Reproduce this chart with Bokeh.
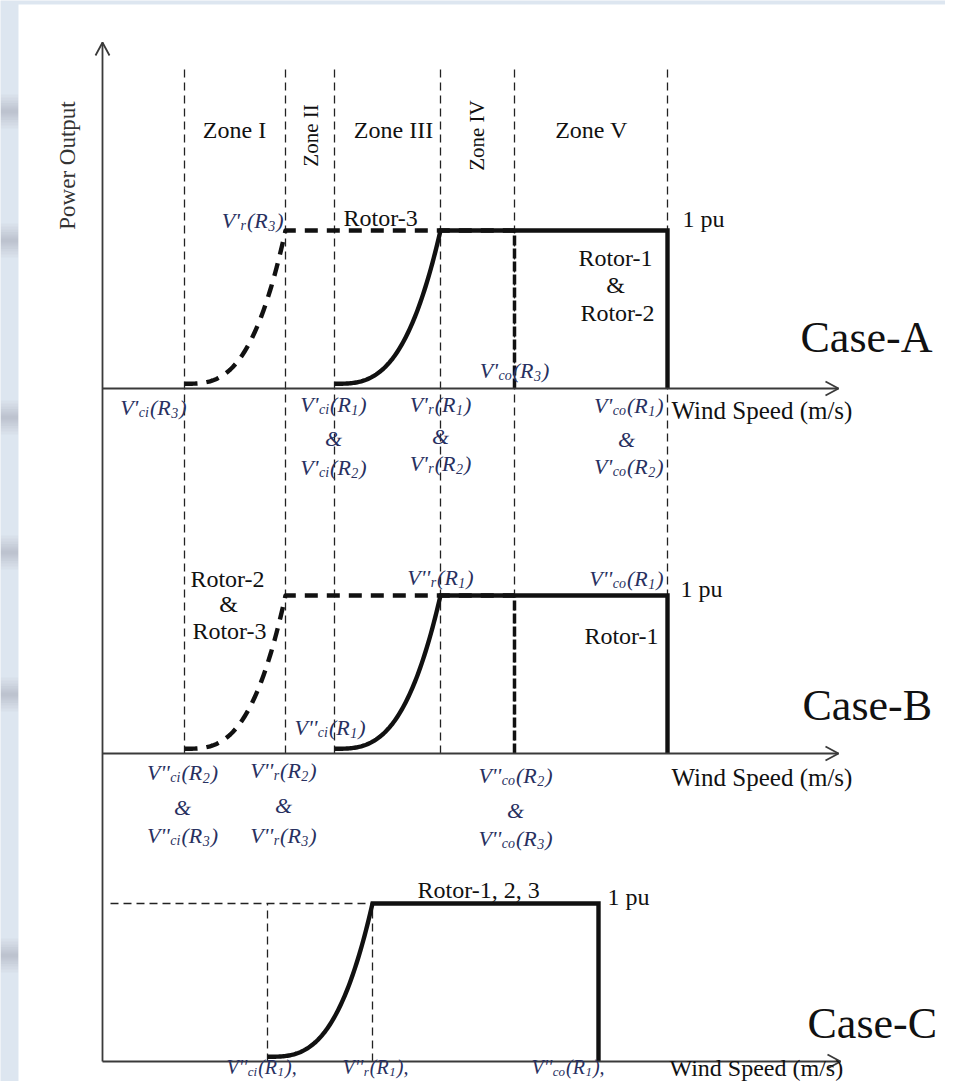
import numpy as np
from bokeh.plotting import figure
from bokeh.models import Range1d
from bokeh.core.properties import value
from bokeh.embed import file_html
from bokeh.resources import INLINE

# ------------------------------------------------------------------ data
# schematic wind-speed break points (arbitrary units measured from the power axis)
zone_bounds = [82, 183, 232, 338, 412, 565]
zone_names = ["Zone I", "Zone II", "Zone III", "Zone IV", "Zone V"]
zone_vertical = [False, True, False, True, False]

# Case A / Case B : slow rotor group (dashed) and fast rotor group (solid)
ab_dashed_ci, ab_dashed_r, ab_dashed_co = 82, 183, 412
ab_solid_ci, ab_solid_r, ab_solid_co = 232, 338, 565
# Case C : all three rotors share one curve
c_ci, c_r, c_co = 165, 270, 496

rated_pu = 1.0
start_pu = 0.03
case_names = ["Case-A", "Case-B", "Case-C"]

# ------------------------------------------------------------------ layout
W, H = 945, 1081
X0, Y0 = 102, 1061          # pixel of the origin
PU = 158                    # vertical size of 1 pu
case_base = [673, 308, 0]   # baseline of each case panel
smudges = [111, 240, 417, 552, 694, 955]   # grey blur bands in the left margin

FONT = value("Liberation Serif")
TXT = "#111111"
VCOL = "#283060"
LINE = "#111111"


def px(x):
    return x - X0


def py(y):
    return Y0 - y


def curve(ci, r, n=80):
    v = np.linspace(ci, r, n)
    pw = start_pu + (rated_pu - start_pu) * ((v - ci) / (r - ci)) ** 3
    return list(v), list(pw)


p = figure(width=W, height=H, x_range=Range1d(-X0, W - X0),
           y_range=Range1d(Y0 - H, Y0), output_backend="svg",
           toolbar_location=None, x_axis_type=None, y_axis_type=None,
           min_border=0)
p.outline_line_color = None
p.background_fill_color = "#dde6f0"
p.border_fill_color = "#dde6f0"

# soft grey streaks in the margin
for c in smudges:
    for hgt in (34, 28, 22, 17, 12, 8, 4):
        p.quad(left=[px(0)], right=[px(18)], top=[py(c - hgt / 2)], bottom=[py(c + hgt / 2)],
               fill_color="#8a8f95", fill_alpha=0.06, line_color=None)

# white sheet
p.quad(left=[px(18)], right=[px(947)], top=[py(4)], bottom=[py(1095)],
       fill_color="white", line_color=None)

# zone boundary lines (Case A and Case B)
for b in zone_bounds:
    p.segment(x0=[b], y0=[case_base[1]], x1=[b], y1=[py(65)],
              line_dash="8 5", line_width=1.3, color="#222222")

# power curves for Case A and Case B
for base in case_base[:2]:
    v, pw = curve(ab_dashed_ci, ab_dashed_r)
    xs = v + [ab_dashed_co]
    ys = [base + PU * q for q in pw] + [base + PU * rated_pu]
    p.line(xs, ys, line_width=4.4, line_dash="13 9", color=LINE, line_join="round")
    p.segment(x0=[ab_dashed_co], y0=[base], x1=[ab_dashed_co], y1=[base + PU * rated_pu],
              line_width=3.5, line_dash="10 3", color=LINE)
    v, pw = curve(ab_solid_ci, ab_solid_r)
    xs = v + [ab_solid_co, ab_solid_co]
    ys = [base + PU * q for q in pw] + [base + PU * rated_pu, base]
    p.line(xs, ys, line_width=4.4, color=LINE, line_join="miter")

# Case C
base = case_base[2]
p.segment(x0=[8], y0=[base + PU * rated_pu], x1=[c_r], y1=[base + PU * rated_pu],
          line_dash="8 5", line_width=1.3, color="#222222")
for b in (c_ci, c_r):
    p.segment(x0=[b], y0=[base], x1=[b], y1=[base + PU * rated_pu],
              line_dash="8 5", line_width=1.3, color="#222222")
v, pw = curve(c_ci, c_r)
xs = v + [c_co, c_co]
ys = [base + PU * q for q in pw] + [base + PU * rated_pu, base]
p.line(xs, ys, line_width=4.4, color=LINE, line_join="miter")

# axes with open arrow heads
AX = "#3a3a3a"
p.segment(x0=[0], y0=[0], x1=[0], y1=[py(42)], line_width=1.8, color=AX)
p.multi_line(xs=[[-7, 0, 7]], ys=[[py(42) - 13, py(42), py(42) - 13]], line_width=1.8, color=AX)
for base, tip in zip(case_base, [px(838), px(838), px(840)]):
    p.segment(x0=[0], y0=[base], x1=[tip], y1=[base], line_width=1.8, color=AX)
    p.multi_line(xs=[[tip - 13, tip, tip - 13]], ys=[[base + 7, base, base - 7]],
                 line_width=1.8, color=AX)


def txt(s, x, y, align="left", size="24px", angle=0.0, style="normal", color=TXT):
    p.text(x=[px(x)], y=[py(y)], text=[s], text_font=FONT, text_font_size=size,
           text_align=align, text_baseline="middle", angle=angle,
           text_font_style=style, text_color=color)


ITW = {"V": .611, "'": .214, "(": .333, "R": .611, ")": .333, ",": .25,
       "c": .444, "i": .278, "o": .5, "r": .389, "1": .5, "2": .5, "3": .5}
FM, FS, GAP = 22, 14, 1.5


def vlab(prime, sub, rot, x, y, align="center", tail="", fm=FM, fs=FS):
    parts = [("V" + prime, False), (sub, True), ("(R", False), (rot, True), (")" + tail, False)]
    widths = []
    for s, is_sub in parts:
        f = fs if is_sub else fm
        widths.append(sum(ITW[c] for c in s) * f + (GAP if is_sub else 0))
    total = sum(widths)
    cur = x - total / 2 if align == "center" else (x - total if align == "right" else x)
    for (s, is_sub), w in zip(parts, widths):
        txt(s, cur + (0.5 if is_sub else 0), y + (5 if is_sub else 0), "left",
            f"{fs if is_sub else fm}px", style="italic", color=VCOL)
        cur += w


# axis titles and zone names
txt("Power Output", 67, 165, "center", "23px", angle=np.pi / 2, color="#333333")
zone_px = [234, 310, 393, 476, 591]
for name, zx, vert in zip(zone_names, zone_px, zone_vertical):
    if vert:
        txt(name, zx, 135, "center", "21px", angle=np.pi / 2)
    else:
        txt(name, zx, 129, "center", "24px")

# ---- Case A
vlab("'", "r", "3", 283, 220, "right")
txt("Rotor-3", 343, 217)
txt("1 pu", 682, 218)
txt("Rotor-1", 615, 257, "center")
txt("&", 615, 284, "center")
txt("Rotor-2", 617, 312, "center")
txt(case_names[0], 800, 337, "left", "44px")
vlab("'", "co", "3", 514, 370)
vlab("'", "ci", "3", 186, 407, "right")
vlab("'", "ci", "1", 333, 404)
txt("&", 333, 438, "center", "22px", style="italic", color=VCOL)
vlab("'", "ci", "2", 333, 467)
vlab("'", "r", "1", 440, 404)
txt("&", 440, 436, "center", "22px", style="italic", color=VCOL)
vlab("'", "r", "2", 440, 463)
vlab("'", "co", "1", 663, 405, "right")
txt("&", 626, 439, "center", "22px", style="italic", color=VCOL)
vlab("'", "co", "2", 663, 466, "right")
txt("Wind Speed (m/s)", 671, 410, size="25px")

# ---- Case B
txt("Rotor-2", 227, 578, "center")
txt("&", 228, 603, "center")
txt("Rotor-3", 229, 630, "center")
vlab("''", "r", "1", 440, 577)
vlab("''", "co", "1", 663, 578, "right")
txt("1 pu", 680, 588)
txt("Rotor-1", 621, 635, "center")
txt(case_names[1], 802, 705, "left", "44px")
vlab("''", "ci", "1", 294, 727, "left")
vlab("''", "ci", "2", 182, 772)
txt("&", 182, 807, "center", "22px", style="italic", color=VCOL)
vlab("''", "ci", "3", 182, 835)
vlab("''", "r", "2", 283, 770)
txt("&", 283, 805, "center", "22px", style="italic", color=VCOL)
vlab("''", "r", "3", 283, 835)
vlab("''", "co", "2", 515, 775)
txt("&", 515, 810, "center", "22px", style="italic", color=VCOL)
vlab("''", "co", "3", 515, 838)
txt("Wind Speed (m/s)", 671, 777, size="25px")

# ---- Case C
txt("Rotor-1, 2, 3", 417, 889)
txt("1 pu", 607, 896)
txt(case_names[2], 807, 1023, "left", "44px")
vlab("''", "ci", "1", 226, 1066, "left", tail=",", fm=20, fs=13)
vlab("''", "r", "1", 342, 1066, "left", tail=",", fm=20, fs=13)
vlab("''", "co", "1", 531, 1066, "left", tail=",", fm=20, fs=13)
txt("Wind Speed (m/s)", 669, 1067, size="24px")

open("out.html", "w").write(file_html(p, INLINE))
